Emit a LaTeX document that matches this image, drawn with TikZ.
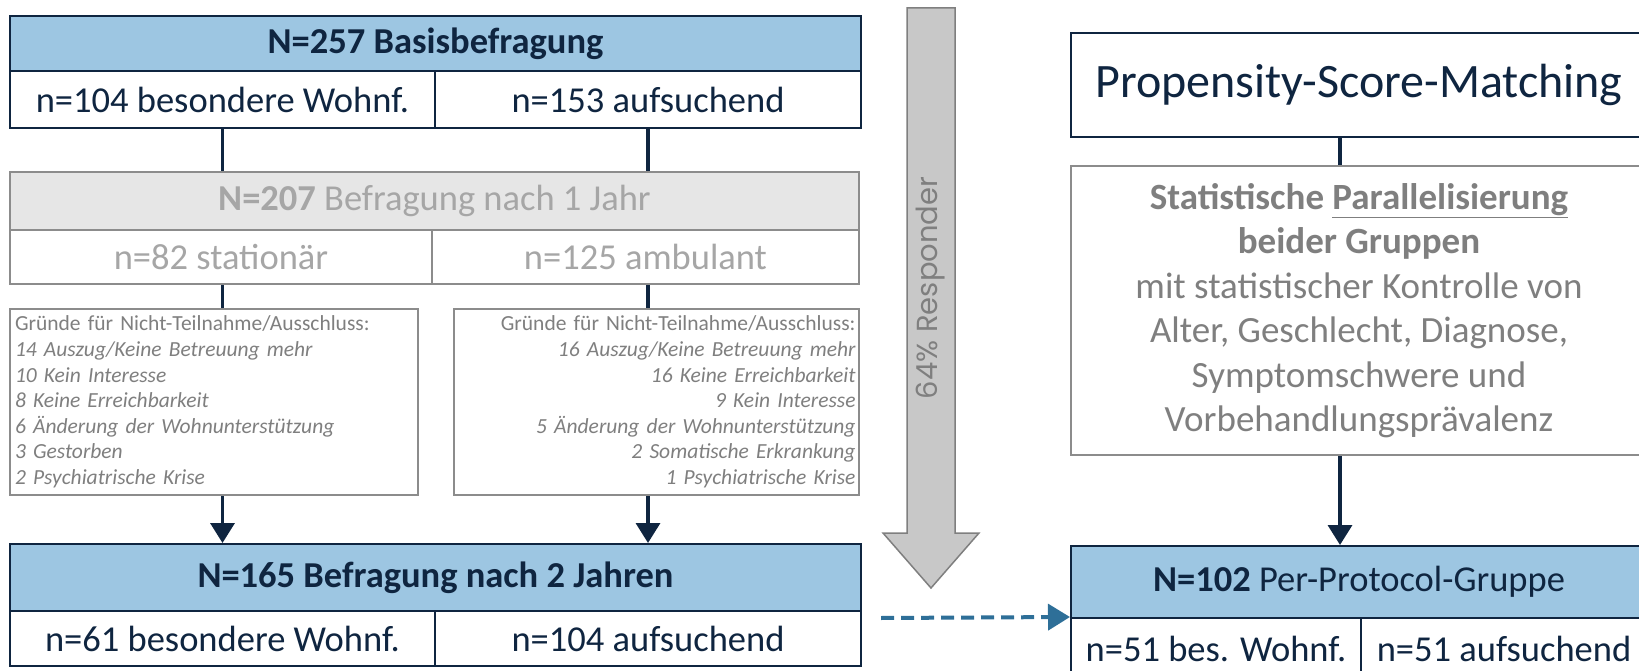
\documentclass[tikz,border=0pt]{standalone}
\usepackage{fontspec}
\setmainfont{Carlito}
\newfontfamily\respfont{Poppins}
\usetikzlibrary{arrows.meta}
\definecolor{navy}{HTML}{0F2540}
\definecolor{hdrblue}{HTML}{9DC6E2}
\definecolor{paleg}{HTML}{E6E6E6}
\definecolor{edgeg}{HTML}{8C8C8C}
\definecolor{fadeg}{HTML}{A6A6A6}
\definecolor{textg}{HTML}{7F7F7F}
\definecolor{arrowg}{HTML}{C8C8C8}
\definecolor{dashblue}{HTML}{2E6F98}
\newcommand{\bigtxt}{\fontsize{36.5}{44}\selectfont}
\newcommand{\smalltxt}{\fontsize{21.5}{25.6}\selectfont}
\newcommand{\psmtxt}{\fontsize{48}{56}\selectfont}
\newcommand{\stattxt}{\fontsize{37}{44.5}\selectfont}
\tikzset{>/.tip={Triangle[width=24pt,length=20pt]},
  hdr/.style={draw=navy, line width=2pt, fill=hdrblue, text=navy, inner sep=0pt, font=\bigtxt},
  cell/.style={draw=navy, line width=2pt, fill=white, text=navy, inner sep=0pt, font=\bigtxt},
  ghdr/.style={draw=edgeg, line width=2pt, fill=paleg, text=fadeg, inner sep=0pt, font=\bigtxt},
  gcell/.style={draw=edgeg, line width=2pt, fill=white, text=fadeg, inner sep=0pt, font=\bigtxt},
  why/.style={draw=edgeg, line width=2pt, fill=white, text=textg, inner sep=0pt, font=\smalltxt},
  link/.style={draw=navy, line width=3.5pt}}

\begin{document}
\begin{tikzpicture}[x=1pt, y=-1pt]
\clip (0,0) rectangle (1639,671);

\node[hdr, minimum width=851pt, minimum height=55pt] (base) at (435.5,43.5) {\textbf{N=257 Basisbefragung}};
\node[cell, minimum width=425pt, minimum height=57pt] (baseL) at (222.5,99.5) {n=104 besondere Wohnf.};
\node[cell, minimum width=426pt, minimum height=57pt] (baseR) at (648,99.5) {n=153 aufsuchend};

\node[ghdr, minimum width=849pt, minimum height=58pt] (yr1) at (434.5,201) {\textbf{N=207} Befragung nach 1 Jahr};
\node[gcell, minimum width=422pt, minimum height=54pt] (yr1L) at (221,257) {n=82 station\"ar};
\node[gcell, minimum width=427pt, minimum height=54pt] (yr1R) at (645.5,257) {n=125 ambulant};

\node[why, minimum width=408pt, minimum height=186pt, text width=398pt, align=left] (whyL) at (214,402)
  {Gr\"unde f\"ur Nicht-Teilnahme/Ausschluss:\\ \itshape 14 Auszug/Keine Betreuung mehr\\ 10 Kein Interesse\\ 8 Keine Erreichbarkeit\\ 6 \"Anderung der Wohnunterst\"utzung\\ 3 Gestorben\\ 2 Psychiatrische Krise};
\node[why, minimum width=405pt, minimum height=186pt, text width=398pt, align=right] (whyR) at (656.5,402)
  {Gr\"unde f\"ur Nicht-Teilnahme/Ausschluss:\\ \itshape 16 Auszug/Keine Betreuung mehr\\ 16 Keine Erreichbarkeit\\ 9 Kein Interesse\\ 5 \"Anderung der Wohnunterst\"utzung\\ 2 Somatische Erkrankung\\ 1 Psychiatrische Krise};

\node[hdr, minimum width=851pt, minimum height=67pt] (fin) at (435.5,577.5) {\textbf{N=165 Befragung nach 2 Jahren}};
\node[cell, minimum width=425pt, minimum height=55pt] (finL) at (222.5,638.5) {n=61 besondere Wohnf.};
\node[cell, minimum width=426pt, minimum height=55pt] (finR) at (648,638.5) {n=104 aufsuchend};

\draw[link] (baseL.south) -- (baseL.south |- yr1.north);
\draw[link] (baseR.south) -- (baseR.south |- yr1.north);
\draw[link] (baseL.south |- yr1L.south) -- (baseL.south |- whyL.north);
\draw[link] (baseR.south |- yr1R.south) -- (baseR.south |- whyR.north);
\draw[link, ->] (baseL.south |- whyL.south) -- (finL.north |- fin.north);
\draw[link, ->] (baseR.south |- whyR.south) -- (finR.north |- fin.north);

\draw[draw=textg, line width=1.5pt, fill=arrowg] (907,8) -- (955,8) -- (955,533) -- (979,533) -- (931,588) -- (883,533) -- (907,533) -- cycle;
\node[rotate=90, text=textg, font=\respfont\fontsize{29}{34}\selectfont] (resp) at (931,288) {64\% Responder};

\node[cell, minimum width=576pt, minimum height=104pt, font=\psmtxt] (psm) at (1359,85) {Propensity-Score-Matching};
\node[gcell, text=textg, minimum width=576pt, minimum height=289pt, font=\stattxt, align=center] (stat) at (1359,310.5)
  {\textbf{Statistische \underline{Parallelisierung}}\\ \textbf{beider Gruppen}\\ mit statistischer Kontrolle von\\ Alter, Geschlecht, Diagnose,\\ Symptomschwere und\\ Vorbehandlungspr\"avalenz};
\node[hdr, minimum width=576pt, minimum height=72pt] (ppg) at (1359,582) {\textbf{N=102} Per-Protocol-Gruppe};
\node[cell, minimum width=290pt, minimum height=62pt] (ppgL) at (1216,649) {n=51 bes. Wohnf.};
\node[cell, minimum width=286pt, minimum height=62pt] (ppgR) at (1504,649) {n=51 aufsuchend};

\draw[link] ([xshift=-19pt]psm.south) -- ([xshift=-19pt]psm.south |- stat.north);
\draw[link, ->] ([xshift=-19pt]stat.south) -- ([xshift=-19pt]stat.south |- ppg.north);

\coordinate (from) at (881,618);
\draw[dashblue, line width=4pt, dash pattern=on 13pt off 7pt, -{Triangle[width=26pt,length=22pt]}] (from) -- (ppgL.north west);
\end{tikzpicture}
\end{document}
